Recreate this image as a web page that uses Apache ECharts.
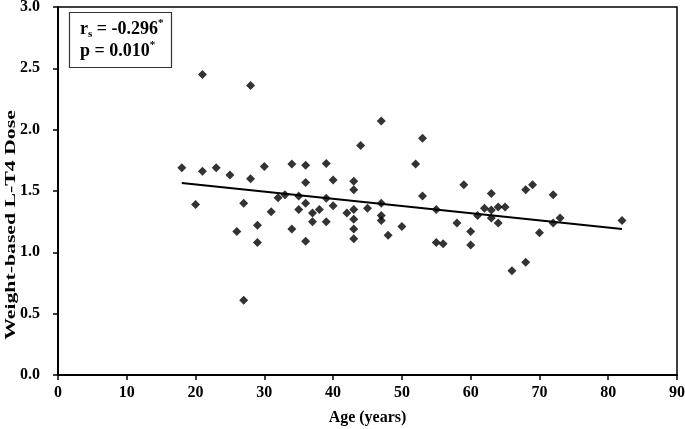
<!DOCTYPE html>
<html><head><meta charset="utf-8">
<script src="https://cdn.jsdelivr.net/npm/echarts@6/dist/echarts.min.js"></script>
<style>html,body{margin:0;padding:0;background:#fff}#c{width:685px;height:429px}</style>
</head><body><div id="c"></div>
<script>
const ages  = [18,20,21,21,23,25,26,27,27,28,28,29,29,30,31,32,33,34,34,35,35,36,36,36,36,37,37,38,39,39,39,40,40,42,43,43,43,43,43,43,44,45,47,47,47,47,48,50,52,53,53,55,55,56,58,59,60,60,61,62,63,63,63,64,64,65,66,68,68,69,70,72,72,73,82];
const doses = [1.69,1.39,2.45,1.66,1.69,1.63,1.17,1.40,0.61,2.36,1.60,1.22,1.08,1.70,1.33,1.445,1.47,1.72,1.19,1.46,1.35,1.71,1.57,1.40,1.09,1.32,1.25,1.35,1.725,1.44,1.25,1.59,1.38,1.32,1.58,1.51,1.35,1.27,1.19,1.11,1.87,1.36,2.07,1.40,1.30,1.26,1.14,1.21,1.72,1.93,1.46,1.35,1.08,1.07,1.24,1.55,1.17,1.06,1.30,1.36,1.48,1.345,1.28,1.37,1.24,1.37,0.85,1.51,0.92,1.55,1.16,1.47,1.24,1.28,1.26];
const fitX = [18, 82];
const fitY = [1.565, 1.19];
const xTitle = 'Age (years)';
const yTitle = 'Weight-based L-T4 Dose';
const statR = '-0.296';
const statP = '0.010';

const font = 'Liberation Serif, Times New Roman, serif';
const chart = echarts.init(document.getElementById('c'));
chart.setOption({
  animation: false,
  backgroundColor: '#fff',
  grid: {left: 58, right: 8, top: 7, bottom: 54, show: true, borderColor: '#000', borderWidth: 1.5,
         containLabel: false, outerBoundsMode: 'none'},
  title: {
    left: 69, top: 12, padding: [6, 8, 6, 11],
    borderColor: '#333', borderWidth: 1.2,
    text: '{b|r}{sub|s}{b| = ' + statR + '}{sup|*}\n{b|p = ' + statP + '}{sup|*}',
    textStyle: {
      fontFamily: font, fontWeight: 'bold', fontSize: 18, color: '#000', lineHeight: 22,
      rich: {
        b: {fontFamily: font, fontWeight: 'bold', fontSize: 18, color: '#000', lineHeight: 22},
        sub: {fontFamily: font, fontWeight: 'bold', fontSize: 11, color: '#000', verticalAlign: 'bottom', padding: [7, 0, 0, 0], lineHeight: 22},
        sup: {fontFamily: font, fontWeight: 'bold', fontSize: 11, color: '#000', verticalAlign: 'top', padding: [0, 0, 7, 0], lineHeight: 22}
      }
    }
  },
  graphic: [{
    type: 'text', x: 4, y: 225, rotation: Math.PI / 2, scaleX: 1.45, scaleY: 1,
    style: {text: yTitle, fontFamily: font, fontWeight: 'bold', fontSize: 15, fill: '#000',
            align: 'center', verticalAlign: 'top'}
  }],
  xAxis: {
    type: 'value', min: 0, max: 90, interval: 10,
    name: xTitle, nameLocation: 'middle', nameGap: 35,
    nameTextStyle: {fontFamily: font, fontWeight: 'bold', fontSize: 16, color: '#000'},
    axisLine: {onZero: false, lineStyle: {color: '#000', width: 2}},
    axisTick: {inside: false, length: 5, lineStyle: {color: '#000', width: 1.5}},
    axisLabel: {fontFamily: font, fontWeight: 'bold', fontSize: 16, color: '#000', margin: 10},
    splitLine: {show: false}
  },
  yAxis: {
    type: 'value', min: 0, max: 3, interval: 0.5,
    axisLine: {onZero: false, lineStyle: {color: '#000', width: 2}},
    axisTick: {inside: false, length: 5, lineStyle: {color: '#000', width: 1.5}},
    axisLabel: {fontFamily: font, fontWeight: 'bold', fontSize: 16, color: '#000', margin: 18,
      formatter: v => v.toFixed(1)},
    splitLine: {show: false}
  },
  series: [
    {
      type: 'scatter', symbol: 'diamond', symbolSize: 9,
      itemStyle: {color: '#000'},
      data: ages.map((a, i) => [a, doses[i]])
    },
    {
      type: 'line', symbol: 'none', silent: true,
      lineStyle: {color: '#000', width: 2},
      data: fitX.map((x, i) => [x, fitY[i]])
    }
  ]
});
</script></body></html>
